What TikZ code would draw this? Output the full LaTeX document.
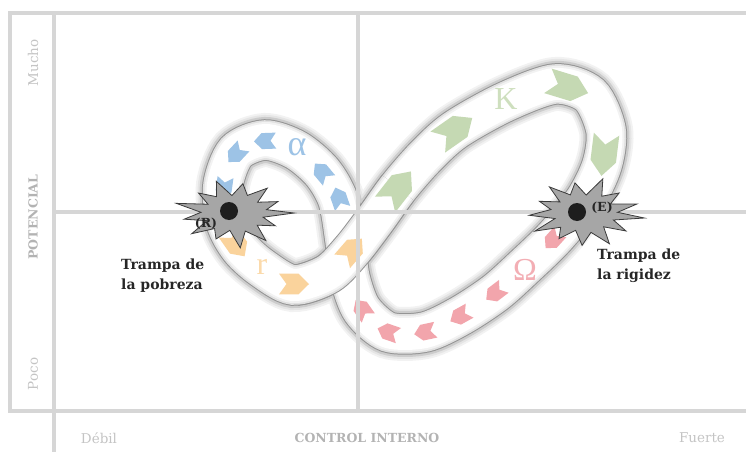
\documentclass[tikz,border=0pt]{standalone}
\usepackage{fontspec}
\setmainfont{DejaVu Serif}
\newfontfamily\greekfont{Liberation Serif}

\definecolor{gridgray}{HTML}{D6D6D6}
\definecolor{axisgray}{HTML}{C4C4C4}
\definecolor{axisbold}{HTML}{B3B3B3}
\definecolor{chvblue}{HTML}{9DC3E6}
\definecolor{chvorange}{HTML}{FAD39C}
\definecolor{chvgreen}{HTML}{C5D9B3}
\definecolor{chvred}{HTML}{F2A5AC}
\definecolor{starfill}{HTML}{A6A6A6}
\definecolor{stardraw}{HTML}{3A3A3A}
\definecolor{dotblack}{HTML}{1E1E1E}
\definecolor{textdark}{HTML}{262626}

\tikzset{
  grid line/.style={draw=gridgray, line width=3.2pt},
  band top/.style={draw=white, line width=32pt,
    preaction={draw=black!42, line width=41.5pt},
    preaction={draw=black!12, line width=39.5pt},
    preaction={draw=black!5, line width=36pt}},
  band/.style={band top,
    preaction={draw=black!5, line width=54pt},
    preaction={draw=black!10, line width=50pt},
    preaction={draw=black!20, line width=46pt},
    preaction={draw=black!42, line width=41.5pt},
    preaction={draw=black!12, line width=39.5pt},
    preaction={draw=black!5, line width=36pt}},
  chevron/.pic={\fill[pic actions] (-1,0.8) -- (0.3,0.8) -- (1,0) -- (0.3,-0.8) -- (-1,-0.8) -- (-0.5,0) -- cycle;},
  burst/.style={fill=starfill, draw=stardraw, line width=0.8pt, line join=miter},
  dot/.style={circle, fill=dotblack, minimum size=18pt, inner sep=0pt},
  trap tag/.style={font=\bfseries\fontsize{12.5}{14}\selectfont, text=textdark, inner sep=0pt},
  trap label/.style={font=\bfseries\fontsize{14}{20}\selectfont, text=textdark, align=left, inner sep=0pt},
  axis tick/.style={font=\fontsize{13.5}{16}\selectfont, text=axisgray, inner sep=0pt},
  axis title/.style={font=\bfseries\fontsize{12.5}{15}\selectfont, text=axisbold, inner sep=0pt},
  greek/.style={font=\greekfont\fontsize{32}{32}\selectfont, inner sep=0pt}
}

\begin{document}
\begin{tikzpicture}[x=1pt, y=-1pt]
\useasboundingbox (0,0) rectangle (746,452);

% the loop
\draw[band] plot[smooth cycle] coordinates {(293,285) (328,274) (352,250) (375,220) (398,188) (425,157) (455,130) (505,102) (555,84) (590,95) (606,130) (602,165) (585,200) (555,237) (523,268) (495,293) (460,316) (425,332) (388,332) (362,310) (350,278) (345,240) (338,200) (322,172) (296,150) (265,140) (236,152) (223,185) (226,222) (240,248) (262,268)};
% r -> K passes over
\begin{scope}
\clip (298,250) -- (298,345) -- (470,280) -- (429,213) -- (367,163) -- cycle;
\draw[band top] plot[smooth] coordinates {(262,268) (293,285) (328,274) (352,250) (375,220) (398,188) (425,157) (455,130)};
\end{scope}

% chevrons
\pic[fill=chvorange, rotate=-55, xscale=15, yscale=13] at (236,244) {chevron};
\pic[fill=chvorange, rotate=0, xscale=15, yscale=13] at (294,284) {chevron};
\pic[fill=chvorange, rotate=49, xscale=15, yscale=13] at (352,250) {chevron};
\pic[fill=chvgreen, rotate=52, xscale=21, yscale=16] at (398,188) {chevron};
\pic[fill=chvgreen, rotate=35, xscale=21, yscale=16] at (455,130) {chevron};
\pic[fill=chvgreen, rotate=-17, xscale=21, yscale=16] at (568,87) {chevron};
\pic[fill=chvgreen, rotate=-97, xscale=21, yscale=16] at (604,155) {chevron};
\pic[fill=chvred, rotate=-132, xscale=11, yscale=10] at (553,240) {chevron};
\pic[fill=chvred, rotate=-143, xscale=11, yscale=10] at (495,293) {chevron};
\pic[fill=chvred, rotate=-151, xscale=11, yscale=10] at (460,316) {chevron};
\pic[fill=chvred, rotate=-168, xscale=11, yscale=10] at (425,332) {chevron};
\pic[fill=chvred, rotate=161, xscale=11, yscale=10] at (388,332) {chevron};
\pic[fill=chvred, rotate=125, xscale=11, yscale=10] at (362,309) {chevron};
\pic[fill=chvblue, rotate=109, xscale=11, yscale=10] at (339,198) {chevron};
\pic[fill=chvblue, rotate=130, xscale=11, yscale=10] at (322,172) {chevron};
\pic[fill=chvblue, rotate=182, xscale=11, yscale=10] at (265,141) {chevron};
\pic[fill=chvblue, rotate=-133, xscale=11, yscale=10] at (236,154) {chevron};
\pic[fill=chvblue, rotate=-98, xscale=11, yscale=10] at (224,188) {chevron};

% phases
\node[greek, text=chvblue, font=\greekfont\fontsize{36}{36}\selectfont] (alpha) at (297,147) {α};
\node[greek, text=chvorange!85] (rphase) at (262,267) {r};
\node[greek, text=chvgreen!85] (kphase) at (506,99) {K};
\node[greek, text=chvred!90] (omega) at (525,270) {Ω};

% frame
\draw[grid line] (746,13) -- (10,13) -- (10,411) -- (746,411);
\draw[grid line] (54,13) -- (54,452);
\draw[grid line] (54,212) -- (746,212);
\draw[grid line] (358,13) -- (358,411);

% traps
\begin{scope}[shift={(234,213)}, xscale=60, yscale=35]
\draw[burst] (0:1) \foreach \a/\rad in {14/.5,28/.78,42/.52,56/.95,70/.55,84/1,98/.5,112/.8,126/.55,140/.92,154/.5,168/.85,182/.55,196/1,210/.5,224/.82,238/.55,252/.95,266/.5,280/.85,294/.55,308/.9,322/.5,336/.8,350/.55} { -- (\a:\rad) } -- cycle;
\end{scope}
\begin{scope}[shift={(584,213)}, xscale=61, yscale=36]
\draw[burst] (8:1) \foreach \a/\rad in {22/.52,36/.85,50/.5,64/.95,78/.55,92/.9,106/.5,120/.82,134/.55,148/.95,162/.5,176/.9,190/.55,204/.8,218/.5,232/.92,246/.55,260/.85,274/.5,288/1,302/.55,316/.8,330/.5,344/.9,358/.55} { -- (\a:\rad) } -- cycle;
\end{scope}
\node[dot] (Rdot) at (229,211) {};
\node[dot] (Edot) at (577,212) {};
\node[trap tag] (Rtag) at (206,224) {(R)};
\node[trap tag] (Etag) at (602,208) {(E)};

\node[trap label, anchor=west] (pobreza) at (121,276) {Trampa de\\la pobreza};
\node[trap label, anchor=west] (rigidez) at (597,266) {Trampa de\\la rigidez};

% axes
\node[axis tick, rotate=90] (mucho) at (33,63) {Mucho};
\node[axis title, rotate=90] (potencial) at (33,217) {POTENCIAL};
\node[axis tick, rotate=90] (poco) at (33,374) {Poco};
\node[axis tick] (debil) at (99,438) {Débil};
\node[axis title] (control) at (367,438) {CONTROL INTERNO};
\node[axis tick] (fuerte) at (702,438) {Fuerte};
\end{tikzpicture}
\end{document}
